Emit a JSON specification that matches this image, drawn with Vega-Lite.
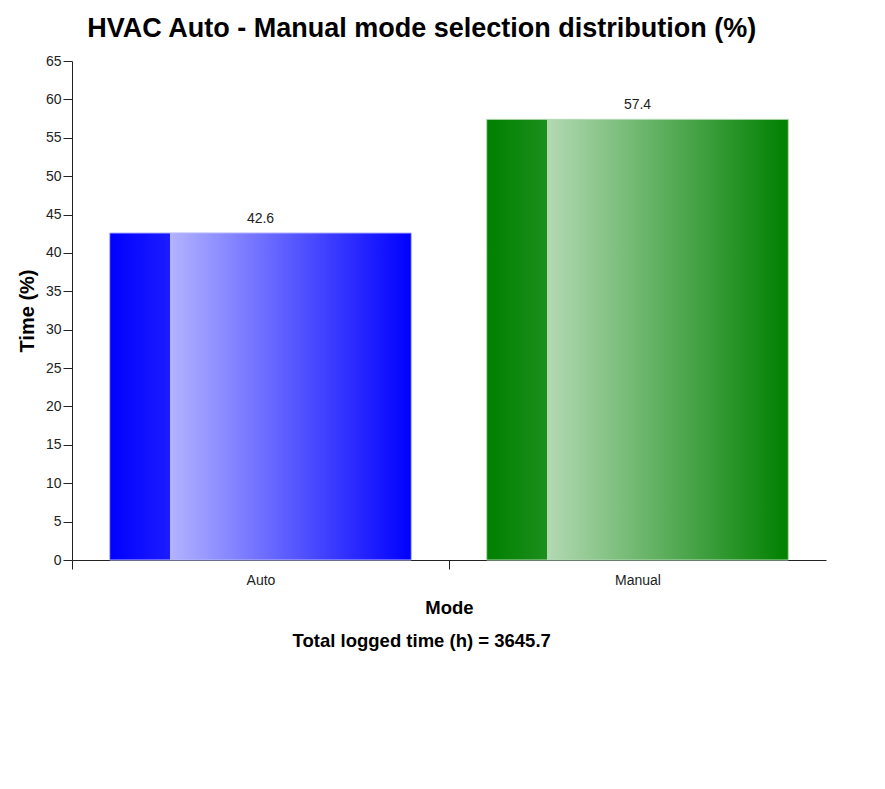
{
  "$schema": "https://vega.github.io/schema/vega-lite/v6.json",
  "padding": {"left": 17, "top": 15, "right": 5, "bottom": 5},
  "background": "white",
  "config": {
    "font": "Liberation Sans",
    "view": {"stroke": null},
    "axis": {
      "labelFont": "Liberation Sans",
      "titleFont": "Liberation Sans",
      "labelFontSize": 14,
      "labelColor": "#222",
      "titleFontWeight": "bold",
      "titleColor": "#000",
      "domainColor": "#222",
      "tickColor": "#222",
      "tickSize": 9,
      "grid": false
    },
    "title": {"font": "Liberation Sans"}
  },
  "title": {"text": "HVAC Auto - Manual mode selection distribution (%)", "fontSize": 27, "fontWeight": "bold", "color": "#000", "offset": 11, "anchor": "middle", "frame": "bounds"},
  "data": {"values": [{"Mode": "Auto", "Time": 42.6}, {"Mode": "Manual", "Time": 57.4}]},
  "vconcat": [
    {
      "width": 754,
      "height": 499,
      "title": {"text": "Total logged time (h) = 3645.7", "orient": "bottom", "fontSize": 18.5, "fontWeight": "bold", "color": "#000", "offset": 15, "anchor": "middle", "frame": "bounds"},
      "encoding": {
        "x": {"field": "Mode", "type": "nominal", "sort": null,
          "scale": {"paddingInner": 0, "paddingOuter": 0},
          "axis": {"labelAngle": 0, "tickOffset": -188.5, "labelOffset": 188.5, "labelPadding": 4, "titlePadding": 11, "titleFontSize": 18.5, "title": "Mode"}},
        "y": {"field": "Time", "type": "quantitative",
          "scale": {"domain": [0, 65], "nice": false},
          "axis": {"values": [0,5,10,15,20,25,30,35,40,45,50,55,60,65], "labelPadding": 2, "titlePadding": 8, "titleFontSize": 20, "title": "Time (%)"}}
      },
      "layer": [
        {
          "transform": [{"filter": "datum.Mode === 'Auto'"}],
          "mark": {"type": "bar", "width": {"band": 0.8}, "stroke": "#b8b8ff", "strokeWidth": 1,
            "color": {"gradient": "linear", "x1": 0, "y1": 0, "x2": 1, "y2": 0,
              "stops": [
                {"offset": 0, "color": "#0000ff"},
                {"offset": 0.2, "color": "#1c1cff"},
                {"offset": 0.2, "color": "#b3b3ff"},
                {"offset": 1, "color": "#0000ff"}
              ]}}
        },
        {
          "transform": [{"filter": "datum.Mode === 'Manual'"}],
          "mark": {"type": "bar", "width": {"band": 0.8}, "stroke": "#b3d9b3", "strokeWidth": 1,
            "color": {"gradient": "linear", "x1": 0, "y1": 0, "x2": 1, "y2": 0,
              "stops": [
                {"offset": 0, "color": "#008000"},
                {"offset": 0.2, "color": "#1c8e1c"},
                {"offset": 0.2, "color": "#b3d9b3"},
                {"offset": 1, "color": "#008000"}
              ]}}
        },
        {
          "mark": {"type": "text", "dy": -14, "fontSize": 14, "color": "#222", "font": "Liberation Sans"},
          "encoding": {"text": {"field": "Time", "type": "quantitative", "format": ".1f"}}
        }
      ]
    }
  ]
}
